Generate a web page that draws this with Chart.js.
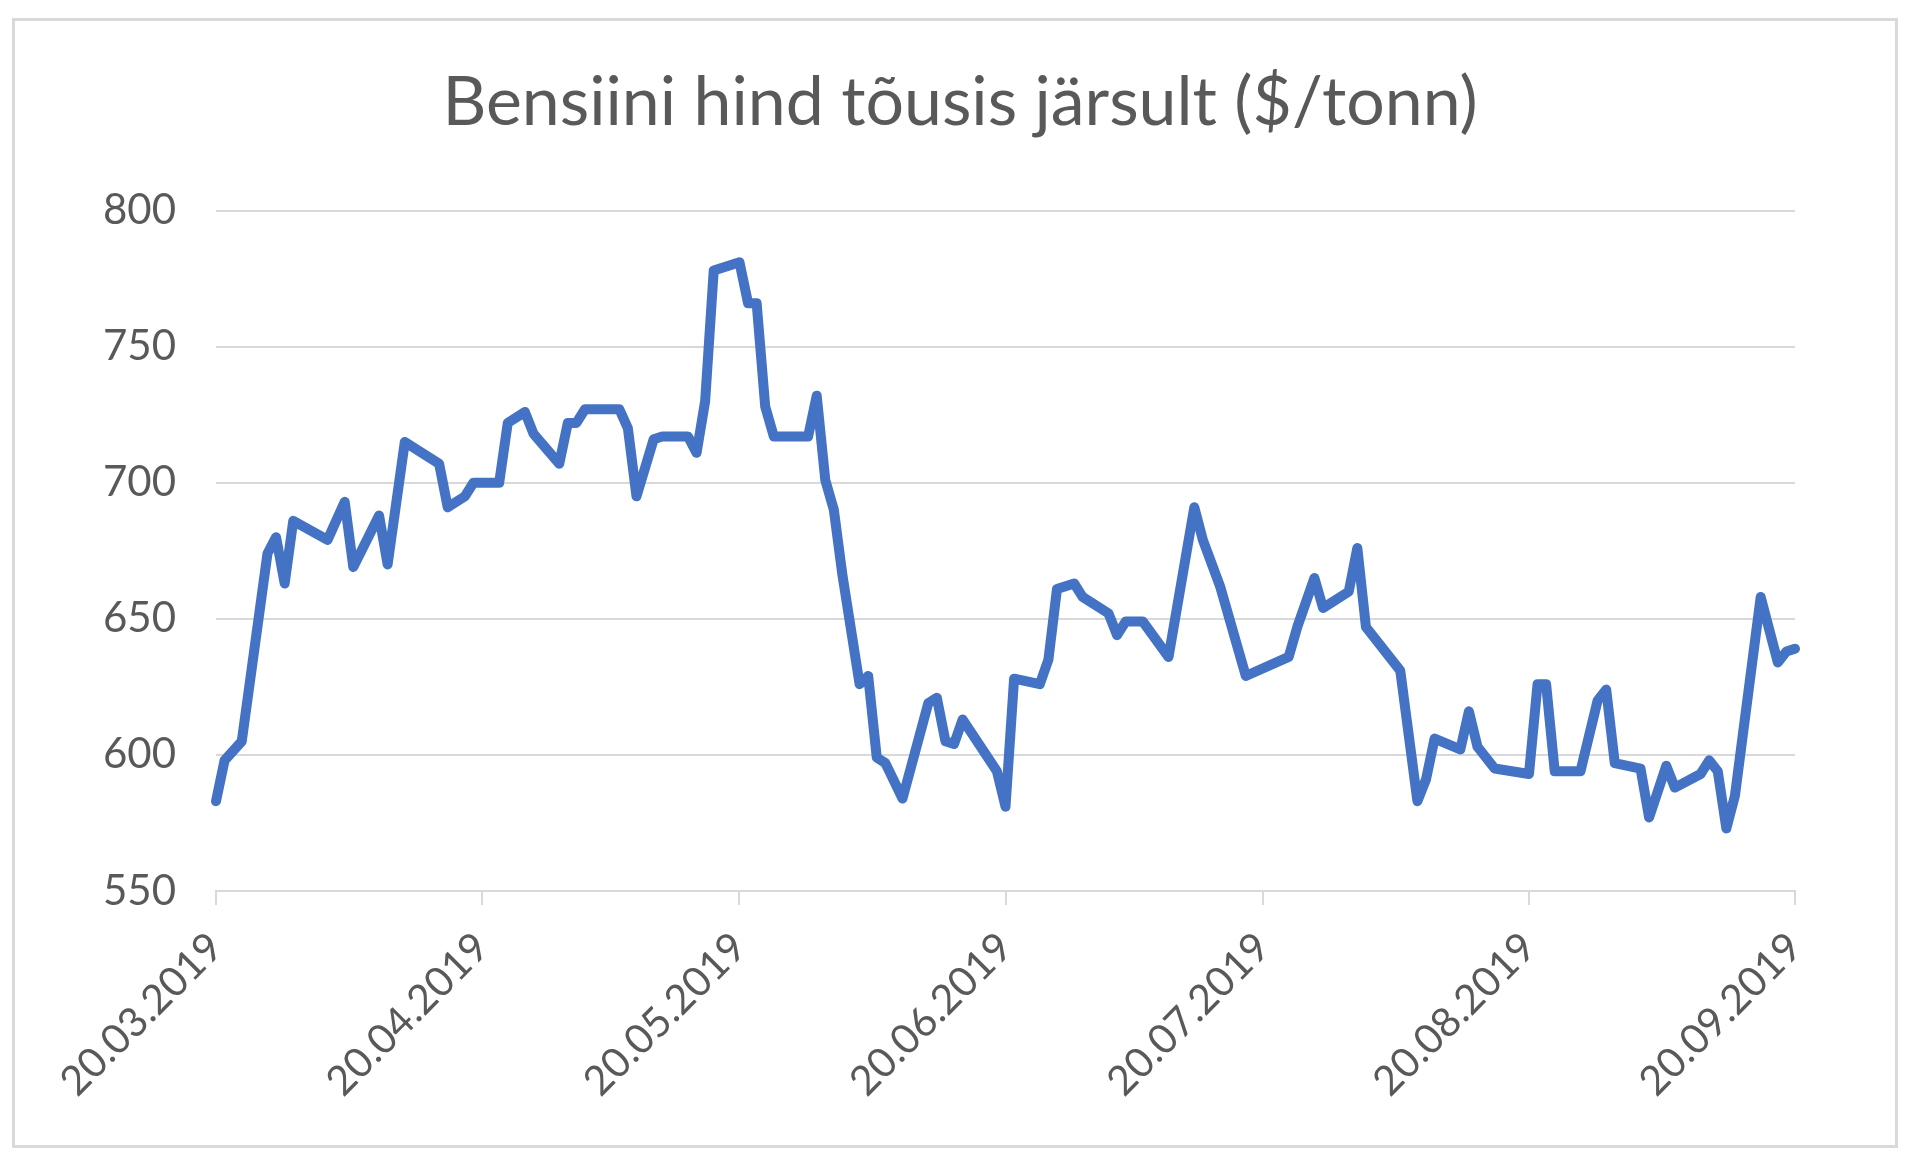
<!DOCTYPE html>
<html>
<head>
<meta charset="utf-8">
<script src="https://cdn.jsdelivr.net/npm/chart.js@4.4.1/dist/chart.umd.min.js"></script>
<style>
  html, body { margin: 0; padding: 0; background: #fff; }
  canvas { display: block; }
</style>
</head>
<body>
<canvas id="chart" width="1920" height="1174"></canvas>
<script>
// Bensiini hind, $/tonn
const dates = [
  '20.03.2019', '21.03.2019', '23.03.2019', '26.03.2019', '27.03.2019', '28.03.2019', '29.03.2019',
  '02.04.2019', '04.04.2019', '05.04.2019', '08.04.2019', '09.04.2019', '11.04.2019', '15.04.2019',
  '16.04.2019', '18.04.2019', '19.04.2019', '22.04.2019', '23.04.2019', '25.04.2019', '26.04.2019',
  '29.04.2019', '30.04.2019',
  '01.05.2019', '02.05.2019', '06.05.2019', '07.05.2019', '08.05.2019', '10.05.2019', '11.05.2019',
  '14.05.2019', '15.05.2019', '16.05.2019', '17.05.2019', '20.05.2019', '21.05.2019', '22.05.2019',
  '23.05.2019', '24.05.2019', '28.05.2019', '29.05.2019', '30.05.2019', '31.05.2019',
  '01.06.2019', '03.06.2019', '04.06.2019', '05.06.2019', '06.06.2019', '08.06.2019', '11.06.2019',
  '12.06.2019', '13.06.2019', '14.06.2019', '15.06.2019', '19.06.2019', '20.06.2019', '21.06.2019',
  '24.06.2019', '25.06.2019', '26.06.2019', '28.06.2019', '29.06.2019',
  '02.07.2019', '03.07.2019', '04.07.2019', '06.07.2019', '09.07.2019', '12.07.2019', '13.07.2019',
  '15.07.2019', '18.07.2019', '23.07.2019', '24.07.2019', '26.07.2019', '27.07.2019', '30.07.2019',
  '31.07.2019',
  '01.08.2019', '05.08.2019', '07.08.2019', '08.08.2019', '09.08.2019', '12.08.2019', '13.08.2019',
  '14.08.2019', '16.08.2019', '20.08.2019', '21.08.2019', '22.08.2019', '23.08.2019', '26.08.2019',
  '28.08.2019', '29.08.2019', '30.08.2019',
  '02.09.2019', '03.09.2019', '05.09.2019', '06.09.2019', '09.09.2019', '10.09.2019', '11.09.2019',
  '12.09.2019', '13.09.2019', '16.09.2019', '18.09.2019', '19.09.2019', '20.09.2019'
];
const prices = [
  583, 598, 605, 674, 680, 663, 686,
  679, 693, 669, 688, 670, 715, 707,
  691, 695, 700, 700, 722, 726, 718,
  707, 722,
  722, 727, 727, 720, 695, 716, 717,
  717, 711, 730, 778, 781, 766, 766,
  728, 717, 717, 732, 701, 690,
  666, 626, 629, 599, 597, 584, 619,
  621, 605, 604, 613, 594, 581, 628,
  626, 635, 661, 663, 658,
  652, 644, 649, 649, 636, 691, 679,
  662, 629, 636, 647, 665, 654, 660,
  676,
  647, 631, 583, 591, 606, 602, 616,
  603, 595, 593, 626, 626, 594, 594,
  620, 624, 597,
  595, 577, 596, 588, 593, 598, 594,
  573, 585, 658, 634, 638, 639
];
const tickLabels = ['20.03.2019', '20.04.2019', '20.05.2019', '20.06.2019', '20.07.2019', '20.08.2019', '20.09.2019'];
const yTicks = [550, 600, 650, 700, 750, 800];

const startDate = tickLabels[0];
function dayOf(s) {
  const p = s.split('.').map(Number);
  const q = startDate.split('.').map(Number);
  return (Date.UTC(p[2], p[1] - 1, p[0]) - Date.UTC(q[2], q[1] - 1, q[0])) / 86400000;
}
const points = dates.map((d, i) => ({ x: dayOf(d), y: prices[i] }));
const tickDays = tickLabels.map(dayOf);

const GRID = '#D9D9D9';
const TEXT = '#595959';
const FONT = 'Lato';

const frame = {
  id: 'frame',
  beforeDraw(chart) {
    const ctx = chart.ctx;
    ctx.save();
    ctx.fillStyle = '#fff';
    ctx.fillRect(0, 0, chart.width, chart.height);
    ctx.strokeStyle = GRID;
    ctx.lineWidth = 3;
    ctx.strokeRect(13.5, 19.5, 1883, 1127);
    ctx.restore();
  }
};

new Chart(document.getElementById('chart').getContext('2d'), {
  type: 'line',
  data: {
    datasets: [{
      data: points,
      borderColor: '#4472C4',
      borderWidth: 10,
      pointRadius: 0,
      tension: 0,
      borderJoinStyle: 'round',
      borderCapStyle: 'round',
      clip: false
    }]
  },
  plugins: [frame],
  options: {
    responsive: false,
    animation: false,
    layout: { padding: 0 },
    plugins: {
      legend: { display: false },
      tooltip: { enabled: false },
      title: {
        display: true,
        text: 'Bensiini hind tõusis järsult ($/tonn)',
        color: TEXT,
        font: { family: FONT, size: 68, weight: 'normal', lineHeight: 1.2 },
        padding: { top: 62, bottom: 67 }
      }
    },
    scales: {
      x: {
        type: 'linear',
        min: tickDays[0],
        max: tickDays[tickDays.length - 1],
        afterBuildTicks(axis) { axis.ticks = tickDays.map(v => ({ value: v })); },
        afterFit(axis) { axis.height = 283; },
        grid: { drawOnChartArea: false, drawTicks: true, tickLength: 14, color: GRID, lineWidth: 2 },
        border: { display: true, color: GRID, width: 2 },
        ticks: {
          color: TEXT,
          font: { family: FONT, size: 41 },
          minRotation: 45,
          maxRotation: 45,
          padding: 18,
          callback(value) {
            const i = tickDays.indexOf(value);
            return i >= 0 ? tickLabels[i] : '';
          }
        }
      },
      y: {
        min: yTicks[0],
        max: yTicks[yTicks.length - 1],
        afterBuildTicks(axis) { axis.ticks = yTicks.map(v => ({ value: v })); },
        afterFit(axis) { axis.width = 216; },
        grid: { color: GRID, lineWidth: 2, drawTicks: false },
        border: { display: false },
        ticks: {
          color: TEXT,
          font: { family: FONT, size: 42 },
          padding: 40
        }
      },
      // empty right-hand axis keeps the right margin so the title stays centred on the page
      yRight: {
        position: 'right',
        afterFit(axis) { axis.width = 125; },
        grid: { display: false },
        border: { display: false },
        ticks: { display: false }
      }
    }
  }
});
</script>
</body>
</html>
